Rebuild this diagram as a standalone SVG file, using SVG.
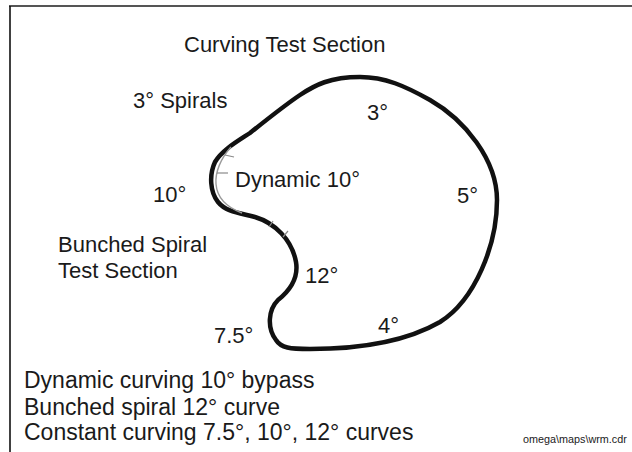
<svg xmlns="http://www.w3.org/2000/svg" width="632" height="452" viewBox="0 0 632 452">
<style>
.t{font-family:"Liberation Sans",Arial,sans-serif;fill:#1a1a1a}
.l{font-size:22px}
.b{font-size:23px}
.tick{stroke:#8a8a8a;stroke-width:1.2;fill:none}
</style>
<rect width="632" height="452" fill="#ffffff"/>
<g id="frame">
<line x1="9" y1="6" x2="632" y2="6" stroke="#555" stroke-width="2"/>
<line x1="10" y1="6" x2="10" y2="452" stroke="#111" stroke-width="1.6"/>
</g>
<g id="track">
<path d="M 250,133 C 238,141 222,150 215,162 C 209,175 210,192 218,202 C 226,212 240,213 255,217 C 275,223 292,240 296,262 C 299,280 288,292 278,300 C 268,310 267,328 276,340 C 281,348 290,349 310,349 C 350,349 400,345 440,322 C 475,300 497,245 497,200 C 497,160 465,120 430,100 C 405,86 385,77 360,77 C 330,77 315,85 300,95 C 285,105 265,121 250,133 Z" fill="none" stroke="#111" stroke-width="4.5" stroke-linejoin="round"/>
</g>
<g id="bypass">
<path d="M 231,147 C 221,158 215,172 216,184 C 217,197 226,207 242,213" fill="none" stroke="#999" stroke-width="1.4"/>
<line class="tick" x1="225" y1="155" x2="234" y2="157"/>
<line class="tick" x1="217" y1="173" x2="228" y2="173"/>
<line class="tick" x1="269" y1="227" x2="273" y2="221"/>
<line class="tick" x1="283" y1="237" x2="288" y2="231"/>
</g>
<g id="labels">
<text class="t l" x="184" y="52">Curving Test Section</text>
<text class="t l" x="133" y="108">3° Spirals</text>
<text class="t l" x="367" y="120">3°</text>
<text class="t l" x="235" y="187">Dynamic 10°</text>
<text class="t l" x="153" y="202">10°</text>
<text class="t l" x="457" y="203">5°</text>
<text class="t l" x="58" y="252">Bunched Spiral</text>
<text class="t l" x="58" y="278">Test Section</text>
<text class="t l" x="305" y="283">12°</text>
<text class="t l" x="378" y="333">4°</text>
<text class="t l" x="214" y="343">7.5°</text>
</g>
<g id="notes">
<text class="t b" x="24" y="388">Dynamic curving 10° bypass</text>
<text class="t b" x="24" y="415">Bunched spiral 12° curve</text>
<text class="t b" x="24" y="440">Constant curving 7.5°, 10°, 12° curves</text>
<text class="t" x="523" y="443" font-size="10.8" fill="#333">omega\maps\wrm.cdr</text>
</g>
</svg>
